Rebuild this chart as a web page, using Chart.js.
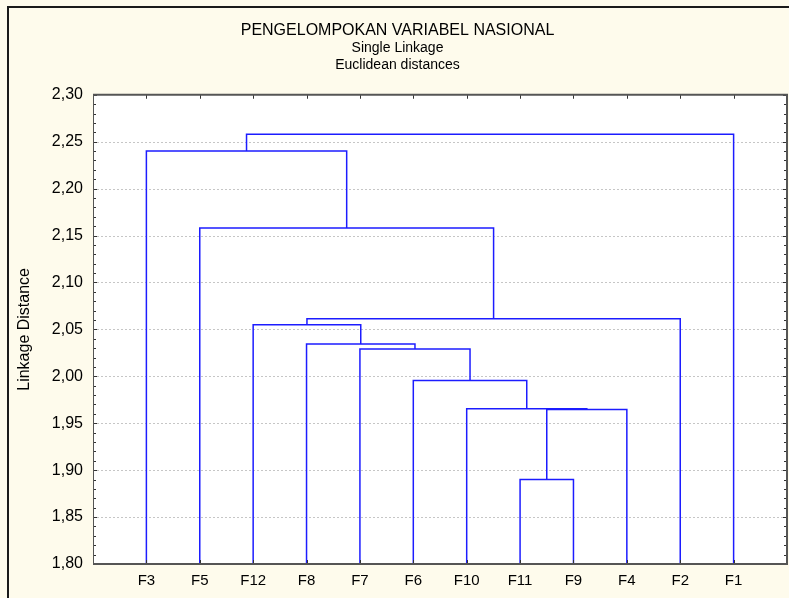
<!DOCTYPE html>
<html>
<head>
<meta charset="utf-8">
<script src="https://cdn.jsdelivr.net/npm/chart.js@4.4.1/dist/chart.umd.min.js"></script>
<style>
html,body{margin:0;padding:0;background:#fefbec;}
canvas{display:block;}
</style>
</head>
<body>
<canvas id="c" width="789" height="598"></canvas>
<script>
// ---- data ----
const labels = ['F3','F5','F12','F8','F7','F6','F10','F11','F9','F4','F2','F1'];
// merge steps: cluster Ck is formed by joining mergeA[k-1] and mergeB[k-1] at mergeHeight[k-1]
const mergeA = ['F11','C1','F10','F6','F7','F8','F12','C7','F5','F3','C10'];
const mergeB = ['F9','F4','C2','C3','C4','C5','C6','F2','C8','C9','F1'];
const mergeHeight = [1.890,1.9645,1.9655,1.9955,2.0292,2.0345,2.0548,2.0612,2.158,2.240,2.258];
const yTicks = [1.80,1.85,1.90,1.95,2.00,2.05,2.10,2.15,2.20,2.25,2.30];
const titleText = 'PENGELOMPOKAN VARIABEL NASIONAL';
const subtitleText = ['Single Linkage','Euclidean distances'];
const yTitle = 'Linkage Distance';

// ---- build dendrogram segments ----
const YMIN = 1.80, YMAX = 2.30;
const nodePos = {}, nodeH = {};
labels.forEach((l,i)=>{ nodePos[l]=i+1; nodeH[l]=YMIN; });
const datasets = [];
mergeA.forEach((a,i)=>{
  const b = mergeB[i], h = mergeHeight[i], id = 'C'+(i+1);
  const xa = nodePos[a], xb = nodePos[b];
  datasets.push({
    data:[{x:xa,y:nodeH[a]},{x:xa,y:h},{x:xb,y:h},{x:xb,y:nodeH[b]}],
    showLine:true, borderColor:'#1c1cff', borderWidth:1.5, pointRadius:0, tension:0, fill:false
  });
  nodePos[id]=(xa+xb)/2; nodeH[id]=h;
});

const FONT = "'Liberation Sans', Arial, sans-serif";

const deco = {
  id:'deco',
  beforeDraw(chart){
    const {ctx, chartArea:ca} = chart;
    ctx.save();
    ctx.fillStyle='#fefbec';
    ctx.fillRect(0,0,chart.width,chart.height);
    ctx.fillStyle='#ffffff';
    ctx.fillRect(ca.left,ca.top,ca.right-ca.left,ca.bottom-ca.top);
    // outer frame
    ctx.strokeStyle='#1a1a1a'; ctx.lineWidth=2;
    ctx.beginPath(); ctx.moveTo(8,chart.height); ctx.lineTo(8,7); ctx.lineTo(chart.width,7); ctx.stroke();
    // grid
    const ys = chart.scales.y;
    ctx.strokeStyle='#c6c6c6'; ctx.lineWidth=1; ctx.setLineDash([2,2]);
    yTicks.slice(1,-1).forEach(v=>{
      const py = Math.round(ys.getPixelForValue(v))+0.5;
      ctx.beginPath(); ctx.moveTo(ca.left,py); ctx.lineTo(ca.right,py); ctx.stroke();
    });
    ctx.restore();
  },
  afterDatasetsDraw(chart){
    const {ctx, chartArea:ca} = chart;
    const ys = chart.scales.y, xs = chart.scales.x;
    ctx.save();
    ctx.strokeStyle='#333'; ctx.lineWidth=1;
    // y ticks (left and right, inward), minor every 0.01
    for(let k=0;k<=50;k++){
      const v = YMIN + k*0.01;
      const py = Math.round(ys.getPixelForValue(v))+0.5;
      const len = (k%5===0)?4:3;
      ctx.beginPath();
      ctx.moveTo(ca.left,py); ctx.lineTo(ca.left+len,py);
      ctx.moveTo(ca.right,py); ctx.lineTo(ca.right-len,py);
      ctx.stroke();
    }
    // x ticks top & bottom at categories
    labels.forEach((l,i)=>{
      const px = Math.round(xs.getPixelForValue(i+1))+0.5;
      ctx.beginPath();
      ctx.moveTo(px,ca.top); ctx.lineTo(px,ca.top+4);
      ctx.moveTo(px,ca.bottom); ctx.lineTo(px,ca.bottom-4);
      ctx.stroke();
    });
    // plot frame
    ctx.strokeStyle='#555'; ctx.lineWidth=1;
    ctx.beginPath(); ctx.moveTo(ca.left+0.5,ca.top); ctx.lineTo(ca.left+0.5,ca.bottom); ctx.stroke();
    ctx.lineWidth=2;
    ctx.beginPath();
    ctx.moveTo(ca.left,ca.top); ctx.lineTo(ca.right,ca.top); ctx.lineTo(ca.right,ca.bottom); ctx.lineTo(ca.left,ca.bottom);
    ctx.stroke();
    ctx.restore();
  }
};

new Chart(document.getElementById('c'),{
  type:'scatter',
  data:{datasets},
  options:{
    responsive:false, animation:false, devicePixelRatio:1,
    layout:{padding:{left:8,right:2,top:0,bottom:0}},
    plugins:{
      legend:{display:false}, tooltip:{enabled:false},
      title:{display:true,text:titleText,color:'#000',font:{family:FONT,size:16,weight:'normal',lineHeight:17.5/16},padding:{top:21.75,bottom:0}},
      subtitle:{display:true,text:subtitleText,color:'#000',font:{family:FONT,size:14,weight:'normal',lineHeight:17.5/14},padding:{top:0,bottom:20.5}}
    },
    scales:{
      x:{type:'linear',min:0,max:13,
        grid:{display:false,drawTicks:false,tickLength:0},border:{display:false},
        afterBuildTicks(s){ s.ticks = labels.map((l,i)=>({value:i+1})); },
        ticks:{autoSkip:false,maxRotation:0,padding:8,color:'#000',font:{family:FONT,size:15},
          callback:(v)=>labels[v-1]||''},
        afterFit(s){ s.height = 34; }
      },
      y:{type:'linear',min:YMIN,max:YMAX,
        grid:{display:false,drawTicks:false,tickLength:0},border:{display:false},
        afterBuildTicks(s){ s.ticks = yTicks.map(v=>({value:v})); },
        ticks:{padding:10,color:'#000',font:{family:FONT,size:16},
          callback:(v)=>Number(v).toFixed(2).replace('.',',')},
        title:{display:true,text:yTitle,color:'#000',font:{family:FONT,size:16},padding:{top:7,bottom:0}},
        afterFit(s){ s.width = 85; }
      }
    }
  },
  plugins:[deco]
});
</script>
</body>
</html>
